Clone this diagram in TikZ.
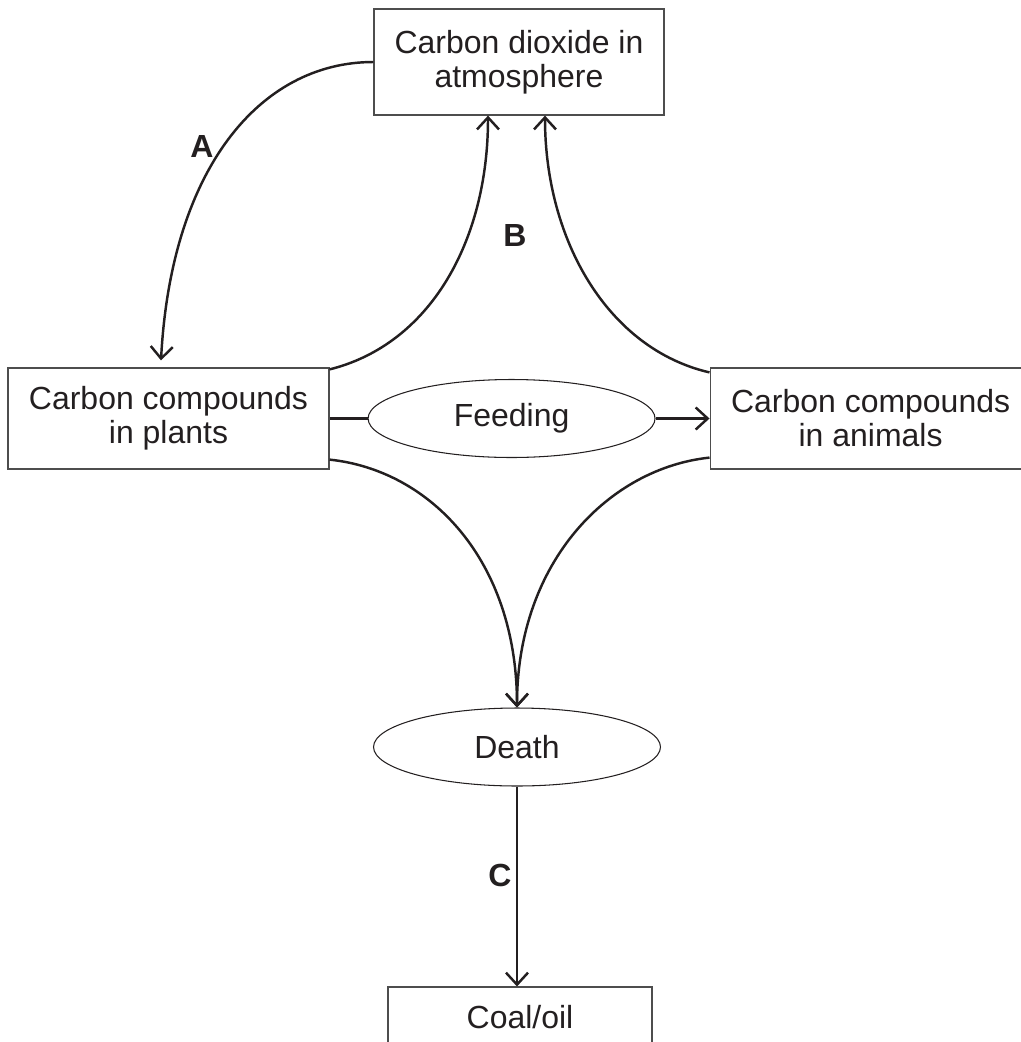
\documentclass[tikz,border=0pt]{standalone}
\usepackage{fontspec}
\setmainfont{Liberation Sans}
\usepackage{tikz}
\usetikzlibrary{arrows.meta,positioning,shapes.geometric}
\definecolor{INK}{HTML}{231F20}
\definecolor{RIM}{HTML}{4D4D4D}

\begin{document}
\begin{tikzpicture}[->,>={Straight Barb[length=0.24cm,width=0.44cm]},x=0.02cm,y=-0.02cm,line width=1.4pt,INK]
	\tikzstyle{every node}=[font=\fontsize{18.2}{19.3}\selectfont,align=center,inner sep=0pt]
	\tikzstyle{box}=[draw=RIM,line width=0.7pt,rectangle,minimum width=6.42cm,minimum height=2.02cm]
	\tikzstyle{blob}=[draw=INK,line width=0.6pt,ellipse,minimum width=5.74cm,minimum height=1.56cm]
	\tikzstyle{tag}=[font=\fontsize{18.2}{19.3}\selectfont\bfseries]
	
	\useasboundingbox (0,0) rectangle (1021,1042);
	
	\node[box] (plants)  at (168.5,418.5)                {Carbon compounds\\in plants};
	\node[box] (animals) [right=7.6cm of plants]         {Carbon compounds\\in animals};
	\node[box, minimum width=5.8cm, minimum height=2.12cm] (co2) at (519,62) {Carbon dioxide in\\atmosphere};
	\node[blob] (feeding) [right=0.76cm of plants]       {Feeding};
	\node[blob] (death)   at (517,747)                   {Death};
	\node[box, minimum width=5.28cm, minimum height=1.2cm] (coal) [below=4cm of death, xshift=0.06cm] {Coal/oil};
	
	\node[tag] (labA) at (202,146) {A};
	\node[tag] (labB) at (515,235) {B};
	\node[tag] (labC) at (500,875) {C};
	
	\coordinate (aEnd)    at ([xshift=-0.15cm,yshift=0.14cm]plants.north);
	\coordinate (bLeft)   at ([xshift=-0.62cm]co2.south);
	\coordinate (bRight)  at ([xshift=0.52cm]co2.south);
	\coordinate (pTop)    at ([yshift=-0.04cm]plants.north east);
	\coordinate (aTop)    at ([yshift=-0.1cm]animals.north west);
	\coordinate (pLow)    at ([yshift=0.2cm]plants.south east);
	\coordinate (aLow)    at ([yshift=0.24cm]animals.south west);
	\coordinate (coalTop) at (death.south |- coal.north);
	
	\path
	(co2)     edge [out=180, in=87, out distance=2.28cm, in distance=3.82cm]  (aEnd)
	(pTop)    edge [out=14, in=-90, out distance=2.08cm, in distance=2.5cm]   (bLeft)
	(aTop)    edge [out=167, in=-90, out distance=2.08cm, in distance=2.5cm]  (bRight)
	(pLow)    edge [out=-6, in=90, out distance=2.03cm, in distance=2.94cm]   (death)
	(aLow)    edge [out=186, in=90, out distance=2cm, in distance=2.94cm]     (death)
	(plants)  edge [-]                                                        (feeding)
	(feeding) edge                                                            (animals)
	(death)   edge                                                            (coalTop);
\end{tikzpicture}
\end{document}
